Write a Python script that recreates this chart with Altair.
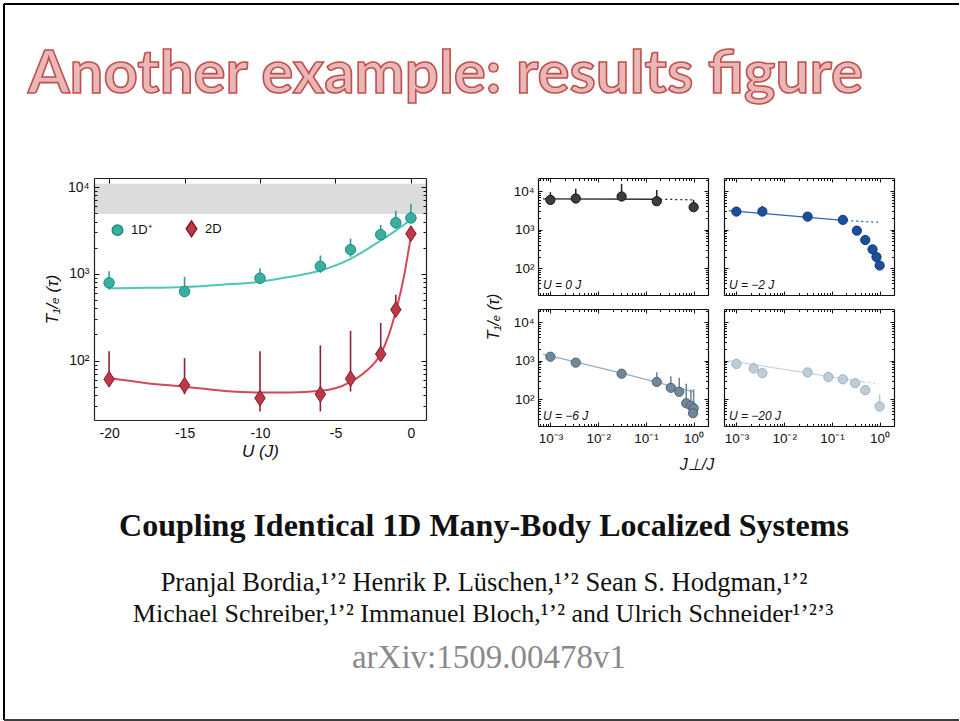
import altair as alt
import pandas as pd

# ---------------------------------------------------------------- data
# Left panel: 1/e lifetime against interaction strength U
U_POINTS = [-20, -15, -10, -6, -4, -2, -1, 0]
T_1D = [787, 625, 890, 1224, 1900, 2820, 3880, 4400]
T_1D_HI = [1070, 923, 1160, 1625, 2550, 3670, 5320, 6410]
T_1D_LO = [660, 552, 780, 1025, 1570, 2490, 3300, 3920]
T_2D = [61, 52, 37, 41, 62, 119, 387, 2900]
T_2D_HI = [128, 107, 128, 150, 220, 272, 573, 3500]
T_2D_LO = [50, 41, 26, 26, 44, 100, 324, 2400]

FIT_U_1D = [-20, -17.5, -15, -12.5, -10, -8, -6, -4, -2, -1, 0]
FIT_T_1D = [682, 689, 707, 750, 810, 923, 1092, 1490, 2420, 3150, 4230]
FIT_U_2D = [-20, -17.5, -15, -12.5, -10, -8, -6, -5, -4, -3, -2, -1.5, -1, -0.5, 0]
FIT_T_2D = [63, 55, 50, 45, 43, 43, 45, 48, 57, 75, 119, 190, 371, 859, 2720]

BAND_T = [4900, 10900]
SERIES = ["1D⁺", "2D"]

# Right panels: lifetime against inter-chain coupling J_perp / J
PANEL_LABELS = ["U = 0 J", "U = −2 J", "U = −6 J", "U = −20 J"]

JP_U0 = [0.001, 0.0034, 0.031, 0.169, 1.0]
T_U0 = [5940, 6440, 7260, 5480, 3830]
T_U0_HI = [9400, 11500, 15500, 10800, 5940]
T_U0_LO = [4900, 5300, 5900, 4600, 3300]
FIT_JP_U0 = [0.0007, 0.2]
FIT_T_U0 = [6300, 6170]
DOT_JP_U0 = [0.2, 1.0]
DOT_T_U0 = [6170, 5940]

JP_U2 = [0.001, 0.0035, 0.031, 0.17, 0.333, 0.5, 0.71, 0.86, 1.0]
T_U2 = [2950, 2950, 2180, 1790, 940, 537, 307, 194, 117]
T_U2_HI = [3830, 4140, 2500, 2100, 1050, 600, 380, 240, 135]
T_U2_LO = [2600, 2600, 1950, 1600, 850, 490, 270, 170, 105]
FIT_JP_U2 = [0.0007, 0.2]
FIT_T_U2 = [3130, 1720]
DOT_JP_U2 = [0.2, 0.93]
DOT_T_U2 = [1720, 1550]

JP_U6 = [0.001, 0.0034, 0.031, 0.169, 0.333, 0.5, 0.70, 0.877, 1.0, 0.97]
T_U6 = [1265, 889, 457, 280, 197, 155, 78, 67, 58, 43]
T_U6_HI = [1500, 1050, 520, 500, 390, 361, 250, 178, 180, 60]
T_U6_LO = [1100, 780, 410, 240, 165, 130, 65, 55, 47, 35]
FIT_JP_U6 = [0.0007, 0.031, 1.0]
FIT_T_U6 = [1480, 475, 155]
DOT_JP_U6 = []
DOT_T_U6 = []

JP_U20 = [0.001, 0.0023, 0.0035, 0.031, 0.0845, 0.17, 0.307, 0.5, 1.0]
T_U20 = [822, 625, 475, 494, 375, 327, 259, 171, 64]
T_U20_HI = [1040, 905, 560, 600, 525, 400, 330, 210, 132]
T_U20_LO = [720, 540, 410, 430, 320, 285, 225, 148, 50]
FIT_JP_U20 = [0.0007, 0.45]
FIT_T_U20 = [1000, 280]
DOT_JP_U20 = [0.45, 0.93]
DOT_T_U20 = [280, 251]

# ---------------------------------------------------------------- style
SANS = "Liberation Sans"
SERIF = "Liberation Serif"
TEAL, TEAL_DARK, TEAL_LINE, TEAL_ERR = "#3aafa0", "#1e8a7d", "#4fc7b7", "#2f9e90"
RED, RED_DARK, RED_LINE, RED_ERR = "#c03848", "#7e1c29", "#d04a57", "#8c2433"
DIAMOND = "M0,-1.5L1,0L0,1.5L-1,0Z"

PANEL_STYLE = [
    # fill, edge, fit line, error bar
    ("#3d3d3d", "#111111", "#2a2a2a", "#222222"),
    ("#1b4f9c", "#0e3877", "#2d64b3", "#1b4f9c"),
    ("#71889b", "#4d6477", "#94aec4", "#6d8497"),
    ("#bfcdd8", "#9cb0c0", "#c7d6e3", "#b3c4d2"),
]

POW10 = "abs(log(datum.value)/LN10 - round(log(datum.value)/LN10)) < 0.001"
LOG_LABEL = ("'10' + ['⁻³','⁻²','⁻¹','⁰','¹','²','³','⁴','⁵']"
             "[round(log(datum.value)/LN10) + 3]")
ONE = pd.DataFrame({"k": [0]})


def log_ticks(lo, hi):
    majors, every = [], []
    for e in range(-4, 6):
        for m in range(1, 10):
            v = m * 10.0 ** e
            if lo <= v <= hi:
                every.append(v)
                if m == 1:
                    majors.append(v)
    return majors, every


def tick_size(major, minor):
    return {"condition": {"test": POW10, "value": major}, "value": minor}


def edge_ticks(data, xf, yf, xs, ys, w, h, xvals, yvals, xsize, ysize,
               bottom_ticks=True, frame="#111111"):
    """Inward-pointing ticks on all four edges plus the top/right frame."""
    common = dict(labels=False, title=None, grid=False, zindex=2,
                  tickColor="#111111", tickWidth=1)
    a = alt.Chart(data).mark_point(opacity=0, size=0).encode(
        x=alt.X(xf, scale=xs, axis=alt.Axis(orient="top", offset=-h, values=xvals,
                                           tickSize=xsize, ticks=bottom_ticks,
                                           domain=False, **common)),
        y=alt.Y(yf, scale=ys, axis=alt.Axis(orient="right", offset=-w, values=yvals,
                                           tickSize=ysize, domain=False, **common)),
    )
    b = alt.Chart(data).mark_point(opacity=0, size=0).encode(
        x=alt.X(xf, scale=xs, axis=alt.Axis(orient="bottom", offset=-h, values=xvals,
                                           tickSize=xsize, domain=True,
                                           domainColor=frame, domainWidth=1.2, **common)),
        y=alt.Y(yf, scale=ys, axis=alt.Axis(orient="left", offset=-w, values=yvals,
                                           tickSize=ysize, domain=True,
                                           domainColor=frame, domainWidth=1.2, **common)),
    )
    return [a, b]


def text_at(text, x, y, **kw):
    return alt.Chart(ONE).mark_text(**kw).encode(
        x=alt.value(x), y=alt.value(y), text=alt.value(text))


# ---------------------------------------------------------------- left panel
W_L, H_L = 332, 242
xs_L = alt.Scale(domain=[-21, 1], nice=False, zero=False)
ys_L = alt.Scale(type="log", domain=[20.7, 12700], nice=False)
ymaj_L, yall_L = log_ticks(20.7, 12700)

pts_L = pd.DataFrame({
    "U": U_POINTS + U_POINTS,
    "T": T_1D + T_2D,
    "hi": T_1D_HI + T_2D_HI,
    "lo": T_1D_LO + T_2D_LO,
    "series": [SERIES[0]] * len(U_POINTS) + [SERIES[1]] * len(U_POINTS),
})
fit_1d = pd.DataFrame({"U": FIT_U_1D, "T": FIT_T_1D})
fit_2d = pd.DataFrame({"U": FIT_U_2D, "T": FIT_T_2D})
band = pd.DataFrame({"lo": [BAND_T[0]], "hi": [BAND_T[1]]})

band_layer = alt.Chart(band).mark_rect(color="#dcdcdc").encode(
    x=alt.value(0), x2=alt.value(W_L),
    y=alt.Y("lo:Q", scale=ys_L, axis=None), y2="hi:Q")

fit_layers = [
    alt.Chart(df).mark_line(color=c, strokeWidth=2, interpolate="monotone").encode(
        x=alt.X("U:Q", scale=xs_L, axis=None), y=alt.Y("T:Q", scale=ys_L, axis=None))
    for df, c in [(fit_1d, TEAL_LINE), (fit_2d, RED_LINE)]
]
err_layers = [
    alt.Chart(pts_L[pts_L.series == s]).mark_rule(color=c, strokeWidth=1.6).encode(
        x=alt.X("U:Q", scale=xs_L, axis=None), y=alt.Y("lo:Q", scale=ys_L, axis=None),
        y2="hi:Q")
    for s, c in [(SERIES[0], TEAL_ERR), (SERIES[1], RED_ERR)]
]
legend_kw = dict(orient="none", legendX=17, legendY=44, direction="horizontal",
                 title=None, labelFont=SANS, labelFontSize=13, labelColor="#111",
                 symbolSize=110, labelOffset=7, columnPadding=31, padding=0)
points_L = alt.Chart(pts_L).mark_point(filled=True, opacity=1, size=110,
                                       strokeWidth=1).encode(
    x=alt.X("U:Q", scale=xs_L, axis=alt.Axis(
        orient="bottom", values=[-20, -15, -10, -5, 0], labelExpr="'' + datum.value",
        ticks=False, tickSize=0, domain=True, domainColor="#222", domainWidth=1.2,
        labelFont=SANS, labelFontSize=14, labelColor="#111", labelPadding=6,
        title="U (J)", titleFont=SANS, titleFontSize=17, titleFontWeight="normal",
        titleFontStyle="italic", titleColor="#111", titlePadding=3, grid=False, zindex=2)),
    y=alt.Y("T:Q", scale=ys_L, axis=alt.Axis(
        orient="left", values=ymaj_L, labelExpr=LOG_LABEL,
        ticks=False, tickSize=0, domain=True, domainColor="#222", domainWidth=1.2,
        labelFont=SANS, labelFontSize=14, labelColor="#111", labelPadding=5,
        title="T₁/ₑ (τ)", titleFont=SANS, titleFontSize=17, titleFontWeight="normal",
        titleFontStyle="italic", titleColor="#111", titlePadding=6, grid=False, zindex=2)),
    color=alt.Color("series:N", scale=alt.Scale(domain=SERIES, range=[TEAL, RED]),
                    legend=alt.Legend(**legend_kw)),
    shape=alt.Shape("series:N", scale=alt.Scale(domain=SERIES, range=["circle", DIAMOND]),
                    legend=alt.Legend(**legend_kw)),
    stroke=alt.Stroke("series:N", scale=alt.Scale(domain=SERIES, range=[TEAL_DARK, RED_DARK]),
                      legend=None),
)

ticks_L = edge_ticks(pts_L, "U:Q", "T:Q", xs_L, ys_L, W_L, H_L,
                     [-20, -15, -10, -5, 0], yall_L, 5, tick_size(5, 3),
                     bottom_ticks=False, frame="#222")

# slide frame, heading and reference text, placed around the left panel
deco = [
    alt.Chart(ONE).mark_rule(color="black", strokeWidth=2).encode(
        x=alt.value(-90), y=alt.value(-174), y2=alt.value(542)),
    alt.Chart(ONE).mark_rule(color="black", strokeWidth=2).encode(
        x=alt.value(-90), x2=alt.value(865), y=alt.value(-174)),
    alt.Chart(ONE).mark_rule(color="#3c3c3c", strokeWidth=2).encode(
        x=alt.value(-90), x2=alt.value(865), y=alt.value(542)),
    text_at("Another example: results figure", -66, -85, align="left",
            baseline="alphabetic", font="Lato", fontWeight="bold", fontSize=60,
            fill="#e8b7b6", stroke="#c0504d", strokeWidth=1.6),
    text_at("Coupling Identical 1D Many-Body Localized Systems", 390, 358,
            align="center", baseline="alphabetic", font=SERIF, fontWeight="bold",
            fontSize=32, color="#111"),
    text_at("Pranjal Bordia,¹ʼ² Henrik P. Lüschen,¹ʼ² Sean S. Hodgman,¹ʼ²", 390, 413,
            align="center", baseline="alphabetic", font=SERIF, fontSize=26.5, color="#111"),
    text_at("Michael Schreiber,¹ʼ² Immanuel Bloch,¹ʼ² and Ulrich Schneider¹ʼ²ʼ³", 389, 444,
            align="center", baseline="alphabetic", font=SERIF, fontSize=26, color="#111"),
    text_at("arXiv:1509.00478v1", 395, 490, align="center", baseline="alphabetic",
            font=SERIF, fontSize=33, color="#8a8a8a"),
]

left = alt.layer(band_layer, *fit_layers, *err_layers, points_L, *ticks_L, *deco).resolve_axis(
    x="independent", y="independent").properties(width=W_L, height=H_L)

# ---------------------------------------------------------------- small panels
W_S, H_S = 170, 117
xs_S = alt.Scale(type="log", domain=[0.00055, 2.0], nice=False)
ys_S = alt.Scale(type="log", domain=[20, 22000], nice=False)
xmaj_S, xall_S = log_ticks(0.00055, 2.0)
ymaj_S, yall_S = log_ticks(20, 22000)

PANEL_DATA = [
    (JP_U0, T_U0, T_U0_HI, T_U0_LO, FIT_JP_U0, FIT_T_U0, DOT_JP_U0, DOT_T_U0),
    (JP_U2, T_U2, T_U2_HI, T_U2_LO, FIT_JP_U2, FIT_T_U2, DOT_JP_U2, DOT_T_U2),
    (JP_U6, T_U6, T_U6_HI, T_U6_LO, FIT_JP_U6, FIT_T_U6, DOT_JP_U6, DOT_T_U6),
    (JP_U20, T_U20, T_U20_HI, T_U20_LO, FIT_JP_U20, FIT_T_U20, DOT_JP_U20, DOT_T_U20),
]


def small_panel(i, show_x, show_y, extra=()):
    jp, t, hi, lo, fjp, ft, djp, dt = PANEL_DATA[i]
    fill, edge, line, err = PANEL_STYLE[i]
    pts = pd.DataFrame({"jp": jp, "T": t, "hi": hi, "lo": lo})
    layers = [
        alt.Chart(pd.DataFrame({"jp": fjp, "T": ft})).mark_line(
            color=line, strokeWidth=1.3).encode(
            x=alt.X("jp:Q", scale=xs_S, axis=None), y=alt.Y("T:Q", scale=ys_S, axis=None)),
    ]
    if djp:
        layers.append(alt.Chart(pd.DataFrame({"jp": djp, "T": dt})).mark_line(
            color=line, strokeWidth=1.3, strokeDash=[2, 3]).encode(
            x=alt.X("jp:Q", scale=xs_S, axis=None), y=alt.Y("T:Q", scale=ys_S, axis=None)))
    layers.append(alt.Chart(pts).mark_rule(color=err, strokeWidth=1.5).encode(
        x=alt.X("jp:Q", scale=xs_S, axis=None), y=alt.Y("lo:Q", scale=ys_S, axis=None),
        y2="hi:Q"))
    layers.append(alt.Chart(pts).mark_point(filled=True, opacity=1, size=85, fill=fill,
                                            stroke=edge, strokeWidth=1).encode(
        x=alt.X("jp:Q", scale=xs_S, axis=alt.Axis(
            orient="bottom", values=xmaj_S, labelExpr=LOG_LABEL, labels=show_x,
            ticks=False, tickSize=0, domain=True, domainColor="#111", domainWidth=1.2,
            labelFont=SANS, labelFontSize=13.5, labelColor="#111", labelPadding=5,
            title=None, grid=False, zindex=2)),
        y=alt.Y("T:Q", scale=ys_S, axis=alt.Axis(
            orient="left", values=ymaj_S, labelExpr=LOG_LABEL, labels=show_y,
            ticks=False, tickSize=0, domain=True, domainColor="#111", domainWidth=1.2,
            labelFont=SANS, labelFontSize=13.5, labelColor="#111", labelPadding=4,
            title=None, grid=False, zindex=2)),
    ))
    layers += edge_ticks(pts, "jp:Q", "T:Q", xs_S, ys_S, W_S, H_S, xall_S, yall_S,
                         tick_size(4, 2.5), tick_size(4, 2.5))
    layers.append(text_at(PANEL_LABELS[i], 5, H_S - 6, align="left", baseline="alphabetic",
                          font=SANS, fontSize=12, fontStyle="italic", color="#111"))
    layers += list(extra)
    return alt.layer(*layers).resolve_axis(x="independent", y="independent").properties(
        width=W_S, height=H_S)


shared_titles = [
    text_at("T₁/ₑ (τ)", -44, 8, angle=270, align="center", baseline="middle",
            font=SANS, fontSize=16, fontStyle="italic", color="#111"),
    text_at("J⊥/J", 159, 156, align="center", baseline="middle",
            font=SANS, fontSize=16, fontStyle="italic", color="#111"),
]

p1 = small_panel(0, False, True)
p2 = small_panel(1, False, False)
p3 = small_panel(2, True, True, shared_titles)
p4 = small_panel(3, True, False)

grid = alt.concat(p1, p2, p3, p4, columns=2,
                  spacing={"row": 14, "column": 16}, bounds="flush")

chart = alt.hconcat(left, grid, spacing=112, bounds="flush").properties(
    padding={"left": 3, "top": 3, "right": 0, "bottom": 0},
    background="white",
).configure_view(stroke=None).configure_axis(grid=False)

chart.save("out.html", embed_options={"renderer": "svg", "actions": False})
